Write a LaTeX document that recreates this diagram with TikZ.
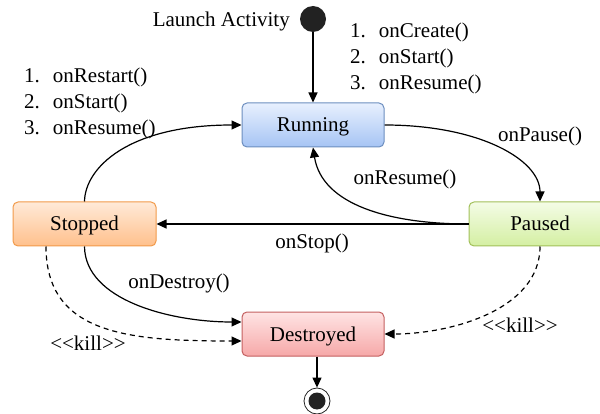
\documentclass[tikz,border=0pt]{standalone}
\usepackage{fontspec}
\setmainfont{Liberation Serif}
\usetikzlibrary{arrows.meta}
\definecolor{runTop}{HTML}{E8F0FE}
\definecolor{runBot}{HTML}{A6C4F4}
\definecolor{runBd}{HTML}{6C8EBF}
\definecolor{pauTop}{HTML}{F4FCE6}
\definecolor{pauBot}{HTML}{D4EFA2}
\definecolor{pauBd}{HTML}{A2C05A}
\definecolor{stoTop}{HTML}{FFEAD8}
\definecolor{stoBot}{HTML}{FFC08C}
\definecolor{stoBd}{HTML}{F29A4A}
\definecolor{desTop}{HTML}{FFE4E4}
\definecolor{desBot}{HTML}{F6A8A8}
\definecolor{desBd}{HTML}{C46060}
\definecolor{dotc}{HTML}{222222}
\begin{document}
\begin{tikzpicture}[x=1pt,y=-1pt,
  state/.style={rectangle, rounded corners=5pt, minimum width=142pt, minimum height=44pt,
    line width=1pt, font=\fontsize{21}{25}\selectfont, inner sep=0pt,
    text height=14pt, text depth=0pt},
  lbl/.style={font=\fontsize{21}{25}\selectfont, inner sep=0pt, anchor=base},
  tr/.style={line width=1.2pt, -{Triangle[length=10pt,width=9pt]}},
  killedge/.style={tr, dash pattern=on 5pt off 4pt}]
\useasboundingbox (0,0) rectangle (600,414);
\clip (0,0) rectangle (600,414);

% states
\node[circle, fill=dotc, minimum size=26pt, inner sep=0pt] (init) at (313,19) {};
\node[lbl, anchor=base east] (launch) at (290,27) {Launch Activity};
\node[state, draw=runBd, top color=runTop, bottom color=runBot] (run) at (313,125) {Running};
\node[state, draw=pauBd, top color=pauTop, bottom color=pauBot] (paused) at (540,224) {Paused};
\node[state, draw=stoBd, top color=stoTop, bottom color=stoBot, minimum width=143pt] (stopped) at (84.5,224) {Stopped};
\node[state, draw=desBd, top color=desTop, bottom color=desBot] (destroyed) at (313,334) {Destroyed};
\node[circle, draw=dotc, line width=0.8pt, minimum size=26pt, inner sep=0pt] (final) at (317,401) {};
\node[circle, fill=dotc, minimum size=17pt, inner sep=0pt] (finalin) at (final) {};

% lists
\node[inner sep=0pt, anchor=base west, font=\fontsize{21}{26}\selectfont] (list1) at (350,38)
  {\begin{tabular}[t]{@{}l@{\hspace{13pt}}l@{}}1. & onCreate()\\ 2. & onStart()\\ 3. & onResume()\end{tabular}};
\node[inner sep=0pt, anchor=base west, font=\fontsize{21}{26}\selectfont] (list2) at (24,83)
  {\begin{tabular}[t]{@{}l@{\hspace{13pt}}l@{}}1. & onRestart()\\ 2. & onStart()\\ 3. & onResume()\end{tabular}};

% transitions
\draw[tr] (init) -- (run);
\draw[tr] (run.east) .. controls (480,125) and (540,160) .. (paused.north);
\draw[tr] (paused.west) .. controls (390,224) and (322,205) .. (run.south);
\draw[tr] (paused.west) -- (stopped.east);
\draw[tr] (stopped.north) .. controls (85,168) and (128,125) .. (run.west);
\draw[tr] (stopped.south) .. controls (85,300) and (170,322) .. ([yshift=12pt]destroyed.west);
\draw[killedge] ([xshift=-38.5pt]stopped.south) .. controls (46,335) and (130,341) .. ([yshift=-7pt]destroyed.west);
\draw[killedge] (paused.south) .. controls (540,310) and (450,334) .. (destroyed.east);
\draw[tr] (final |- destroyed.south) -- (final);

% labels
\node[lbl] (lpause) at (540,142) {onPause()};
\node[lbl] (lresume) at (405,185) {onResume()};
\node[lbl] (lstop) at (312,249) {onStop()};
\node[lbl] (ldestroy) at (179,288) {onDestroy()};
\node[lbl] (lkill1) at (88,350) {<{}<kill>{}>};
\node[lbl] (lkill2) at (520,332) {<{}<kill>{}>};
\end{tikzpicture}
\end{document}
